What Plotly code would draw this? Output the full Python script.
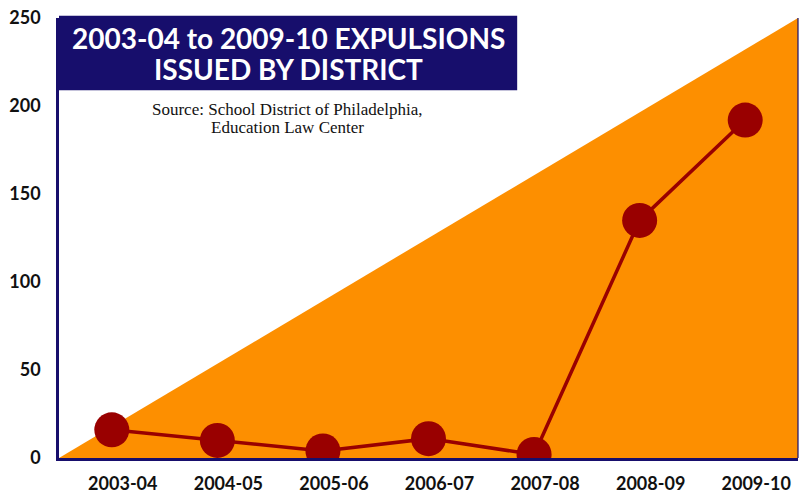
import plotly.graph_objects as go

# data
seasons = ["2003-04", "2004-05", "2005-06", "2006-07", "2007-08", "2008-09", "2009-10"]
expulsions = [16, 10, 4, 11, 2, 135, 192]
y_ticks = [0, 50, 100, 150, 200, 250]

NAVY = "#170e6c"
ORANGE = "#fd8f00"
DARK_RED = "#990000"
TICK_FONT = dict(family="Lato", size=18, color="#111111", weight="bold")
TITLE_FONT = dict(family="Lato", size=28, color="white", weight="bold")
SOURCE_FONT = dict(family="Liberation Serif", size=17, color="#111111")

fig = go.Figure()
fig.add_trace(go.Scatter(
    x=seasons,
    y=expulsions,
    mode="lines+markers",
    line=dict(color=DARK_RED, width=3.5),
    marker=dict(color=DARK_RED, size=35),
    hoverinfo="x+y",
    showlegend=False,
))

# orange triangle behind the line, corner to corner of the plot area
fig.add_shape(type="path", xref="paper", yref="paper",
              path="M 0,0 L 1,1 L 1,0 Z",
              fillcolor=ORANGE, line=dict(width=0), layer="below")
# thin right border
fig.add_shape(type="line", xref="paper", yref="paper",
              x0=1, x1=1, y0=0, y1=1, line=dict(color=NAVY, width=1.2))

# title box
fig.add_shape(type="rect", xref="paper", yref="paper",
              x0=0, x1=0.62, y0=0.836, y1=1.005,
              fillcolor=NAVY, line=dict(width=0), layer="above")
for txt, ypos in [("2003-04 to 2009-10 EXPULSIONS", 0.955),
                  ("ISSUED BY DISTRICT", 0.884)]:
    fig.add_annotation(xref="paper", yref="paper", x=0.31, y=ypos,
                       xanchor="center", yanchor="middle",
                       text=txt, showarrow=False, font=TITLE_FONT)
for txt, ypos in [("Source: School District of Philadelphia,", 0.792),
                  ("Education Law Center", 0.751)]:
    fig.add_annotation(xref="paper", yref="paper", x=0.309, y=ypos,
                       xanchor="center", yanchor="middle",
                       text=txt, showarrow=False, font=SOURCE_FONT)

fig.update_xaxes(
    type="category", range=[-0.5, 6.5],
    showline=True, linecolor=NAVY, linewidth=2.5,
    showgrid=False, zeroline=False, ticks="", automargin=False,
    tickfont=TICK_FONT, ticklabelstandoff=8, ticklabelshift=11,
    ticklabeloverflow="allow",
)
fig.update_yaxes(
    range=[0, 250], tickvals=y_ticks,
    showline=True, linecolor=NAVY, linewidth=2.5,
    showgrid=False, zeroline=False, ticks="", automargin=False,
    tickfont=TICK_FONT, ticklabelstandoff=12, ticklabeloverflow="allow",
)
# page body adds ~8px on the top/left, so the figure is trimmed to match
fig.update_layout(
    width=801, height=485,
    margin=dict(l=51, r=11, t=10, b=35),
    plot_bgcolor="white", paper_bgcolor="white",
)

fig.write_html("out.html")
